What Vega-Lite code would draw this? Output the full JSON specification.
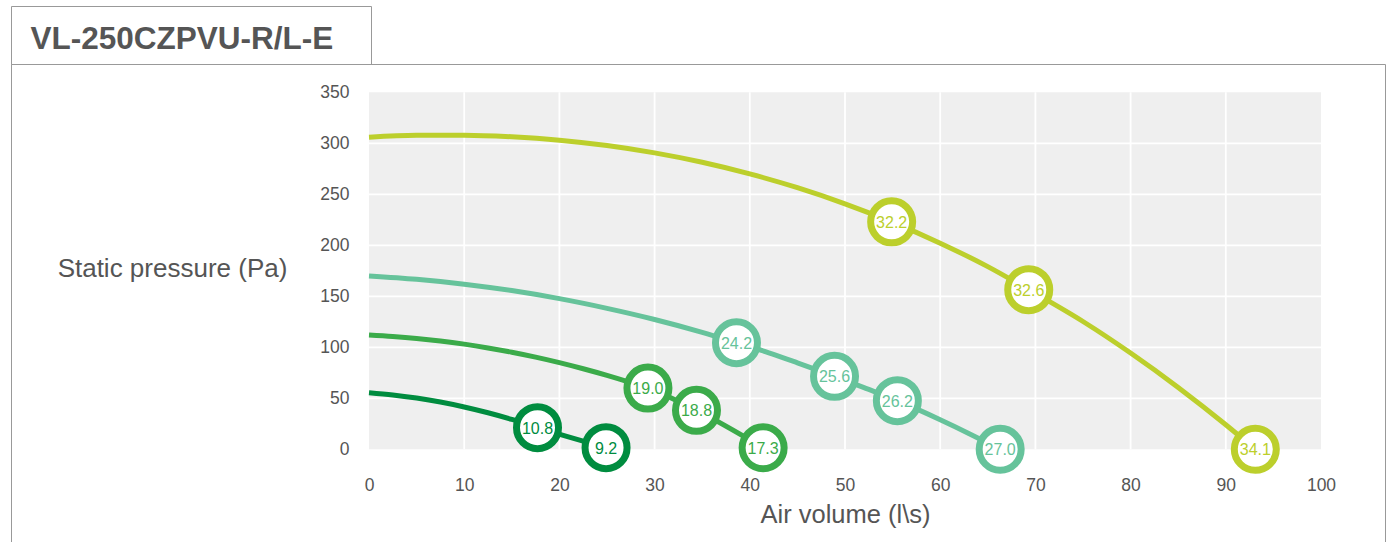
{
  "$schema": "https://vega.github.io/schema/vega-lite/v6.json",
  "padding": {"left": 10, "top": 5, "right": 0, "bottom": 0},
  "background": "white",
  "spacing": 0,
  "bounds": "flush",
  "config": {
    "view": {"stroke": "#999999", "strokeWidth": 1},
    "font": "Liberation Sans",
    "axis": {
      "labelFont": "Liberation Sans",
      "titleFont": "Liberation Sans",
      "labelColor": "#555555",
      "titleColor": "#555555",
      "labelFontSize": 17.5,
      "titleFontWeight": "normal",
      "domain": false,
      "ticks": false,
      "tickSize": 0,
      "grid": false,
      "labelFlush": false,
      "labelOverlap": false
    }
  },
  "datasets": {
    "curves": [
      {"s": "A", "x": 0, "p": 306}, {"s": "A", "x": 5, "p": 307.8}, {"s": "A", "x": 10, "p": 308}, {"s": "A", "x": 15, "p": 306.4},
      {"s": "A", "x": 20, "p": 303.1}, {"s": "A", "x": 25, "p": 297.8}, {"s": "A", "x": 30, "p": 290.6}, {"s": "A", "x": 35, "p": 281.4},
      {"s": "A", "x": 40, "p": 270}, {"s": "A", "x": 45, "p": 256.5}, {"s": "A", "x": 50, "p": 240.7}, {"s": "A", "x": 54.9, "p": 223},
      {"s": "A", "x": 60, "p": 202.1}, {"s": "A", "x": 65, "p": 179.1}, {"s": "A", "x": 69.3, "p": 156.5}, {"s": "A", "x": 75, "p": 125.3},
      {"s": "A", "x": 80, "p": 94.4}, {"s": "A", "x": 85, "p": 60.7}, {"s": "A", "x": 90, "p": 24.1}, {"s": "A", "x": 93.1, "p": 0},
      {"s": "B", "x": 0, "p": 170}, {"s": "B", "x": 5, "p": 166.7}, {"s": "B", "x": 10, "p": 161.9}, {"s": "B", "x": 15, "p": 155.6},
      {"s": "B", "x": 20, "p": 147.7}, {"s": "B", "x": 25, "p": 138.2}, {"s": "B", "x": 30, "p": 127.3}, {"s": "B", "x": 35, "p": 114.7},
      {"s": "B", "x": 38.6, "p": 104.5}, {"s": "B", "x": 42, "p": 94.6}, {"s": "B", "x": 45, "p": 84.8}, {"s": "B", "x": 48.9, "p": 71.5},
      {"s": "B", "x": 52, "p": 60.4}, {"s": "B", "x": 55.5, "p": 47.7}, {"s": "B", "x": 60, "p": 29}, {"s": "B", "x": 63, "p": 15.6},
      {"s": "B", "x": 66.3, "p": 0},
      {"s": "C", "x": 0, "p": 112}, {"s": "C", "x": 2.5, "p": 110.6}, {"s": "C", "x": 5, "p": 108.7}, {"s": "C", "x": 7.5, "p": 106.2},
      {"s": "C", "x": 10, "p": 103.1}, {"s": "C", "x": 12.5, "p": 99.4}, {"s": "C", "x": 15, "p": 95.2}, {"s": "C", "x": 17.5, "p": 90.4},
      {"s": "C", "x": 20, "p": 85}, {"s": "C", "x": 22.5, "p": 79}, {"s": "C", "x": 25, "p": 72.5}, {"s": "C", "x": 27.5, "p": 65.4},
      {"s": "C", "x": 29.3, "p": 60}, {"s": "C", "x": 34.4, "p": 38.2}, {"s": "C", "x": 41.4, "p": 1.5},
      {"s": "D", "x": 0, "p": 55.5}, {"s": "D", "x": 2.5, "p": 53.3}, {"s": "D", "x": 5, "p": 50.2}, {"s": "D", "x": 7.5, "p": 46.3},
      {"s": "D", "x": 10, "p": 41.5}, {"s": "D", "x": 12.5, "p": 35.8}, {"s": "D", "x": 15, "p": 29.3}, {"s": "D", "x": 17.7, "p": 21.2},
      {"s": "D", "x": 24.9, "p": 1.6}
    ],
    "markers": [
      {"s": "A", "x": 54.9, "p": 223, "label": "32.2"},
      {"s": "A", "x": 69.3, "p": 156.5, "label": "32.6"},
      {"s": "A", "x": 93.1, "p": 0, "label": "34.1"},
      {"s": "B", "x": 38.6, "p": 104.5, "label": "24.2"},
      {"s": "B", "x": 48.9, "p": 71.5, "label": "25.6"},
      {"s": "B", "x": 55.5, "p": 47.7, "label": "26.2"},
      {"s": "B", "x": 66.3, "p": 0, "label": "27.0"},
      {"s": "C", "x": 29.3, "p": 60, "label": "19.0"},
      {"s": "C", "x": 34.4, "p": 38.2, "label": "18.8"},
      {"s": "C", "x": 41.4, "p": 1.5, "label": "17.3"},
      {"s": "D", "x": 17.7, "p": 21.2, "label": "10.8"},
      {"s": "D", "x": 24.9, "p": 1.6, "label": "9.2"}
    ],
    "gridX": [{"g": 10}, {"g": 20}, {"g": 30}, {"g": 40}, {"g": 50}, {"g": 60}, {"g": 70}, {"g": 80}, {"g": 90}],
    "gridY": [{"g": 50}, {"g": 100}, {"g": 150}, {"g": 200}, {"g": 250}, {"g": 300}]
  },
  "vconcat": [
    {
      "width": 360,
      "height": 58,
      "view": {"stroke": "#999999", "strokeWidth": 1},
      "layer": [
        {
          "data": {"values": [{"name": "VL-250CZPVU-R/L-E"}]},
          "mark": {"type": "text", "align": "left", "baseline": "alphabetic", "dx": -160.5, "dy": 13.7, "font": "Liberation Sans", "fontWeight": "bold", "fontSize": 31.5, "color": "#555555"},
          "encoding": {"text": {"field": "name"}}
        }
      ]
    },
    {
      "width": 1374,
      "height": 490,
      "layer": [
        {
          "data": {"values": [{}]},
          "mark": {"type": "rect", "fill": "#efefef"},
          "encoding": {
            "x": {"datum": 0, "type": "quantitative",
                  "scale": {"domain": [0, 100], "range": [358, 1310], "nice": false, "zero": false},
                  "axis": {"title": "Air volume (l\\s)", "titleFontSize": 25.5, "offset": -104.7, "labelPadding": 36, "labelBaseline": "middle", "tickCount": 10, "titleY": 65, "titleBaseline": "middle"}},
            "x2": {"datum": 100},
            "y": {"datum": 0, "type": "quantitative",
                  "scale": {"domain": [0, 350], "range": [385.3, 28.3], "nice": false, "zero": false},
                  "axis": {"title": "Static pressure (Pa)", "titleFontSize": 26, "offset": -358, "labelPadding": 20, "labelBaseline": "middle", "tickCount": 7, "titleAngle": 0, "titleAlign": "center", "titleBaseline": "middle", "titleX": -197, "titleY": 204}},
            "y2": {"datum": 350}
          }
        },
        {
          "data": {"name": "gridX"},
          "mark": {"type": "rule", "stroke": "white", "strokeWidth": 1.8},
          "encoding": {
            "x": {"field": "g", "type": "quantitative"},
            "y": {"datum": 0, "type": "quantitative"},
            "y2": {"datum": 350}
          }
        },
        {
          "data": {"name": "gridY"},
          "mark": {"type": "rule", "stroke": "white", "strokeWidth": 1.8},
          "encoding": {
            "y": {"field": "g", "type": "quantitative"},
            "x": {"datum": 0, "type": "quantitative"},
            "x2": {"datum": 100}
          }
        },
        {
          "data": {"name": "curves"},
          "mark": {"type": "line", "strokeWidth": 5, "interpolate": "monotone"},
          "encoding": {
            "x": {"field": "x", "type": "quantitative"},
            "y": {"field": "p", "type": "quantitative"},
            "color": {"field": "s", "type": "nominal", "scale": {"domain": ["A", "B", "C", "D"], "range": ["#bccf2c", "#66c39b", "#3bab4a", "#008c3f"]}, "legend": null}
          }
        },
        {
          "data": {"name": "markers"},
          "mark": {"type": "point", "shape": "circle", "size": 1764, "fill": "white", "strokeWidth": 7, "opacity": 1, "fillOpacity": 1, "strokeOpacity": 1},
          "encoding": {
            "x": {"field": "x", "type": "quantitative"},
            "y": {"field": "p", "type": "quantitative"},
            "stroke": {"field": "s", "type": "nominal", "scale": {"domain": ["A", "B", "C", "D"], "range": ["#bccf2c", "#66c39b", "#3bab4a", "#008c3f"]}, "legend": null}
          }
        },
        {
          "data": {"name": "markers"},
          "mark": {"type": "text", "fontSize": 16, "baseline": "middle", "dy": 1, "font": "Liberation Sans"},
          "encoding": {
            "x": {"field": "x", "type": "quantitative"},
            "y": {"field": "p", "type": "quantitative"},
            "text": {"field": "label"},
            "color": {"field": "s", "type": "nominal", "scale": {"domain": ["A", "B", "C", "D"], "range": ["#bccf2c", "#66c39b", "#3bab4a", "#008c3f"]}, "legend": null}
          }
        }
      ]
    }
  ]
}
